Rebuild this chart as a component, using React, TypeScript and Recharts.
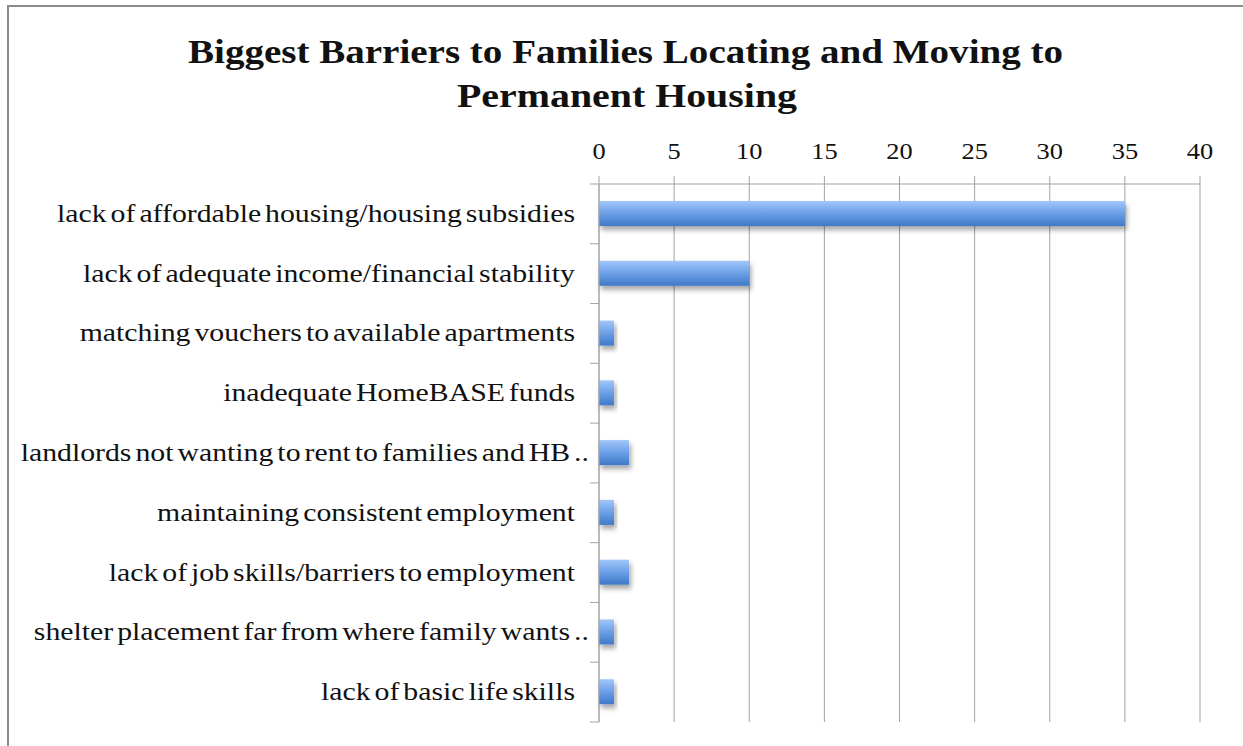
import { BarChart, Bar, XAxis, YAxis, CartesianGrid } from "recharts";

const categories = [
  "lack of affordable housing/housing subsidies",
  "lack of adequate income/financial stability",
  "matching vouchers to available apartments",
  "inadequate HomeBASE funds",
  "landlords not wanting to rent to families and HB ..",
  "maintaining consistent employment",
  "lack of job skills/barriers to employment",
  "shelter placement far from where family wants ..",
  "lack of basic life skills",
];
const counts = [35, 10, 1, 1, 2, 1, 2, 1, 1];
const xTicks = [0, 5, 10, 15, 20, 25, 30, 35, 40];
const titleLines = ["Biggest Barriers to Families Locating and Moving to", "Permanent Housing"];

const data = categories.map((name, i) => ({ name, value: counts[i] }));

const PLOT_TOP = 184;
const PLOT_BOTTOM = 722;
const BAND = (PLOT_BOTTOM - PLOT_TOP) / categories.length;
const GRAY = "#a3a3a3";
const FONT = "'Liberation Serif', serif";

const CategoryTick = ({ x, y, payload, index }: any) => {
  // truncated labels run their ".." past the usual right edge, as in Excel
  const shift = String(payload.value).endsWith("..") ? 14 : 0;
  return (
    <g>
      <line x1={x - 9} x2={x} y1={y - BAND / 2} y2={y - BAND / 2} stroke={GRAY} />
      {index === categories.length - 1 && (
        <line x1={x - 9} x2={x} y1={y + BAND / 2} y2={y + BAND / 2} stroke={GRAY} />
      )}
      <text
        transform={`translate(${x - 24 + shift},${y + 8}) scale(1.145,1)`}
        textAnchor="end"
        fontSize={26}
        fontFamily={FONT}
        fill="#111"
        style={{ wordSpacing: "-3px" }}
      >
        {payload.value}
      </text>
    </g>
  );
};

const NumberTick = ({ x, y, payload }: any) => (
  <text transform={`translate(${x},${y}) scale(1.1,1)`} textAnchor="middle" fontSize={24} fontFamily={FONT} fill="#111">
    {payload.value}
  </text>
);

const ShadowBar = ({ x, y, width, height }: any) => (
  <rect x={x} y={y} width={width} height={height} fill="url(#barGrad)" filter="url(#barShadow)" />
);

export default function App() {
  return (
    <div style={{ position: "absolute", left: 0, top: 0, width: 1243, height: 746, background: "#fff", overflow: "hidden" }}>
      <div
        style={{
          position: "absolute",
          left: 7,
          top: 5,
          width: 1260,
          height: 760,
          border: "2px solid #8c8c8c",
        }}
      />
      <svg style={{ position: "absolute", left: 0, top: 0 }} width={1243} height={130}>
        <text
          x={188}
          y={63}
          textLength={875}
          lengthAdjust="spacingAndGlyphs"
          fontFamily={FONT}
          fontWeight="bold"
          fontSize={34}
          fill="#111"
        >
          {titleLines[0]}
        </text>
        <text
          x={457}
          y={107}
          textLength={340}
          lengthAdjust="spacingAndGlyphs"
          fontFamily={FONT}
          fontWeight="bold"
          fontSize={34}
          fill="#111"
        >
          {titleLines[1]}
        </text>
      </svg>
      <div style={{ position: "absolute", left: 0, top: 0 }}>
        <BarChart
          width={1243}
          height={746}
          data={data}
          layout="vertical"
          margin={{ top: 124, right: 43, bottom: 24, left: 0 }}
          barSize={25}
        >
          <defs>
            <linearGradient id="barGrad" x1="0" y1="0" x2="0" y2="1">
              <stop offset="0%" stopColor="#a2c6fa" />
              <stop offset="50%" stopColor="#6b9fe6" />
              <stop offset="100%" stopColor="#3f79c9" />
            </linearGradient>
            <filter id="barShadow" x="-20%" y="-30%" width="140%" height="190%">
              <feDropShadow dx="2" dy="4" stdDeviation="2.5" floodColor="#000" floodOpacity="0.35" />
            </filter>
          </defs>
          <CartesianGrid horizontal={false} stroke={GRAY} />
          <XAxis
            type="number"
            orientation="top"
            domain={[0, 40]}
            ticks={xTicks}
            height={60}
            tickSize={8}
            tickMargin={17}
            stroke={GRAY}
            tick={<NumberTick />}
          />
          <YAxis
            type="category"
            dataKey="name"
            width={599}
            tickLine={false}
            tickSize={0}
            tickMargin={0}
            stroke={GRAY}
            tick={<CategoryTick />}
            interval={0}
          />
          <Bar dataKey="value" shape={<ShadowBar />} isAnimationActive={false} />
        </BarChart>
      </div>
    </div>
  );
}
